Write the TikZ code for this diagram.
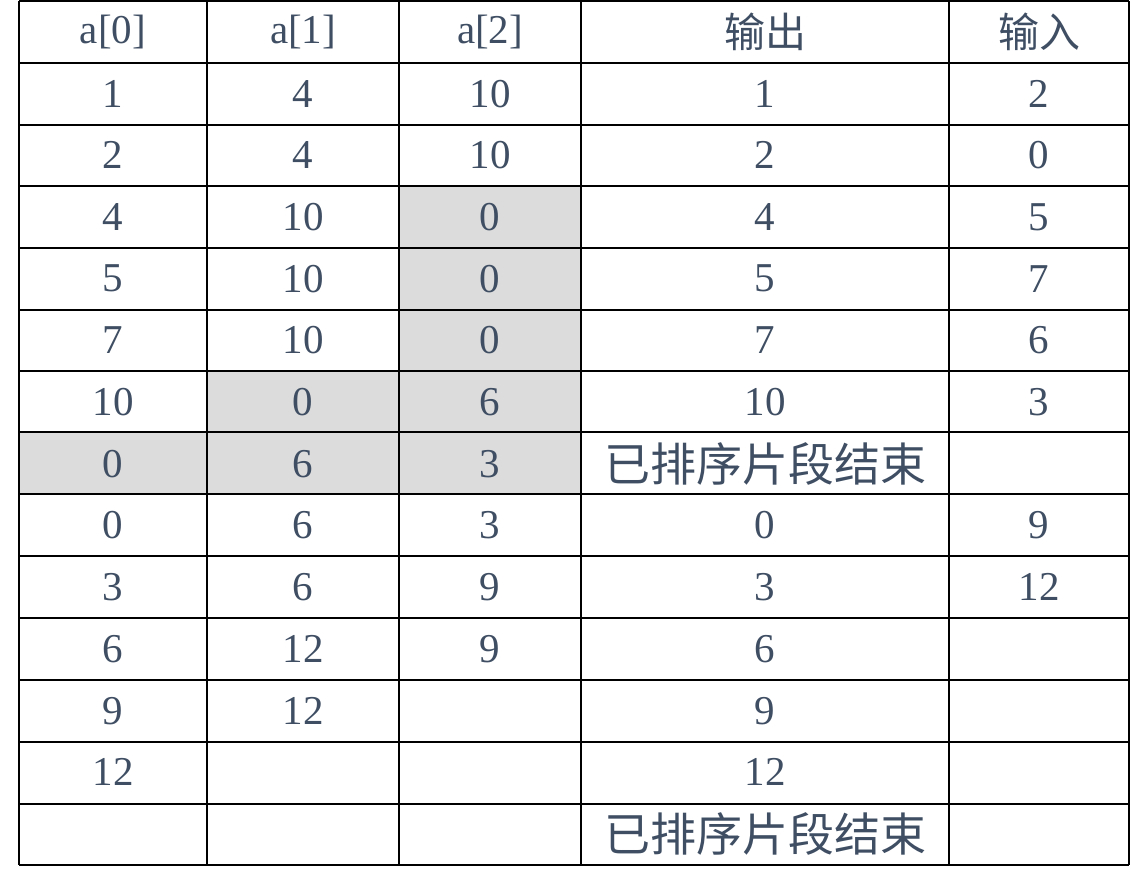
\documentclass[tikz,border=0pt]{standalone}
\usepackage{fontspec}
\setmainfont{Liberation Serif}
\newfontfamily\cjk{Noto Sans CJK SC}
\definecolor{txt}{HTML}{3F4E63}
\definecolor{cellgray}{HTML}{DCDCDC}
\begin{document}
\begin{tikzpicture}[x=1pt,y=-1pt,
  cell/.style={inner sep=0pt,text=txt,font=\fontsize{41}{41}\selectfont}]
\useasboundingbox (0,0) rectangle (1132,876);
\def\xs{{19,207,399,581,949,1129}}
\def\ys{{1,63,125,186,248,310,371,432,494,556,618,680,742,804,865}}
% shaded cells
\foreach \c/\r in {2/3,2/4,2/5,1/6,2/6,0/7,1/7,2/7}{
  \pgfmathsetmacro\xa{\xs[\c]}\pgfmathsetmacro\xb{\xs[\c+1]}
  \pgfmathsetmacro\ya{\ys[\r]}\pgfmathsetmacro\yb{\ys[\r+1]}
  \fill[cellgray] (\xa,\ya) rectangle (\xb,\yb);}
% grid
\foreach \i in {0,...,5}{\pgfmathsetmacro\xx{\xs[\i]}\draw[line width=2.2pt] (\xx,1) -- (\xx,865);}
\foreach \j in {0,...,14}{\pgfmathsetmacro\yy{\ys[\j]}\draw[line width=2.2pt] (19,\yy) -- (1129,\yy);}
% contents
\foreach \r/\a/\b/\c/\o/\n in {
 0/a[0]/a[1]/a[2]/{\cjk 输出}/{\cjk 输入},
 1/1/4/10/1/2, 2/2/4/10/2/0, 3/4/10/0/4/5, 4/5/10/0/5/7, 5/7/10/0/7/6,
 6/10/0/6/10/3, 7/0/6/3/{\cjk\fontsize{46}{46}\selectfont 已排序片段结束}/{},
 8/0/6/3/0/9, 9/3/6/9/3/12, 10/6/12/9/6/{}, 11/9/12/{}/9/{}, 12/12/{}/{}/12/{},
 13/{}/{}/{}/{\cjk\fontsize{46}{46}\selectfont 已排序片段结束}/{}}{
  \pgfmathsetmacro\yc{1+61.71*(\r+0.5)}
  \node[cell] (c\r-0) at (113,\yc) {\a};
  \node[cell] (c\r-1) at (303,\yc) {\b};
  \node[cell] (c\r-2) at (490,\yc) {\c};
  \node[cell] (c\r-3) at (765,\yc) {\o};
  \node[cell] (c\r-4) at (1039,\yc) {\n};
}
\end{tikzpicture}
\end{document}
